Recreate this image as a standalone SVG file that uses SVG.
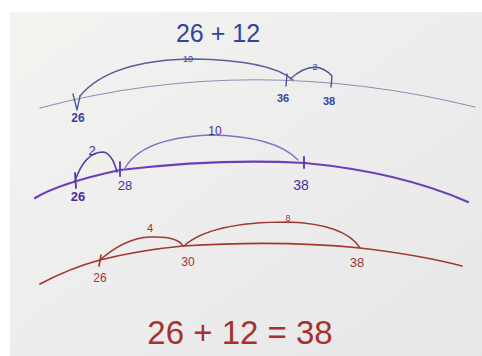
<svg xmlns="http://www.w3.org/2000/svg" width="482" height="356" viewBox="0 0 482 356">
<defs>
<linearGradient id="paper" x1="0" y1="0" x2="1" y2="1">
<stop offset="0" stop-color="#f3f3f0"/>
<stop offset="1" stop-color="#e7e7ea"/>
</linearGradient>
</defs>
<style>
.t{font-family:"Liberation Sans","DejaVu Sans",sans-serif;}
.blue{fill:#34449a;}
.purple{fill:#4a2c9c;}
.red{fill:#a3332c;}
.ln{fill:none;stroke-linecap:round;stroke-linejoin:round;}
</style>
<rect x="0" y="0" width="482" height="356" fill="#ffffff"/>
<rect x="10" y="12" width="472" height="344" fill="url(#paper)"/>

<text class="t blue" x="218" y="42" font-size="25" text-anchor="middle">26 + 12</text>

<g id="line1">
<path class="ln" d="M40,108 Q250,52 475,107" stroke="#8c90b4" stroke-width="1.2"/>
<path class="ln" d="M73,94 L77,110 L80,96" stroke="#4a5295" stroke-width="1.3"/>
<path class="ln" d="M80,96 Q110,60 193,59 Q270,60 293,80" stroke="#5a5f9c" stroke-width="1.4"/>
<path class="ln" d="M287,74 L286,86 M290,79 Q315,57 332,76 L331,87" stroke="#4a5295" stroke-width="1.4"/>
<text class="t blue" x="188" y="62" font-size="9" text-anchor="middle">10</text>
<text class="t blue" x="315" y="70" font-size="9" text-anchor="middle">2</text>
<text class="t blue" x="78" y="122" font-size="12" font-weight="bold" text-anchor="middle">26</text>
<text class="t blue" x="283" y="102" font-size="11" font-weight="bold" text-anchor="middle">36</text>
<text class="t blue" x="329" y="105" font-size="11" font-weight="bold" text-anchor="middle">38</text>
</g>

<g id="line2">
<path class="ln" d="M35,198 Q60,183 120,170 Q220,158 305,163 Q400,172 468,202" stroke="#6b3fb8" stroke-width="2.2"/>
<path class="ln" d="M75,173 L76,188 M120,162 L120,176 M304,157 L304,168" stroke="#5a35a8" stroke-width="1.8"/>
<path class="ln" d="M75,181 Q85,152 103,152 Q112,153 117,172" stroke="#5a35a8" stroke-width="1.6"/>
<path class="ln" d="M124,170 Q140,138 210,135 Q275,136 298,160" stroke="#8d6cc4" stroke-width="1.3"/>
<text class="t purple" x="92" y="155" font-size="13" text-anchor="middle">2</text>
<text class="t purple" x="215" y="135" font-size="12" text-anchor="middle">10</text>
<text class="t purple" x="78" y="201" font-size="13" font-weight="bold" text-anchor="middle">26</text>
<text class="t purple" x="125" y="190" font-size="13" text-anchor="middle">28</text>
<text class="t purple" x="301" y="190" font-size="14" text-anchor="middle">38</text>
</g>

<g id="line3">
<path class="ln" d="M40,284 Q70,268 100,260 Q140,250 183,246 Q280,240 360,248 Q420,255 462,266" stroke="#a3392f" stroke-width="1.7"/>
<path class="ln" d="M101,255 L99,266" stroke="#a3392f" stroke-width="1.7"/>
<path class="ln" d="M100,260 Q125,238 150,237 Q178,236 183,246" stroke="#9e3830" stroke-width="1.5"/>
<path class="ln" d="M184,246 Q210,222 288,222 Q345,224 360,248" stroke="#9e3830" stroke-width="1.5"/>
<text class="t red" x="150" y="232" font-size="11" text-anchor="middle">4</text>
<text class="t red" x="288" y="221" font-size="9" text-anchor="middle">8</text>
<text class="t red" x="100" y="282" font-size="12" text-anchor="middle">26</text>
<text class="t red" x="188" y="266" font-size="12" text-anchor="middle">30</text>
<text class="t red" x="357" y="267" font-size="13" text-anchor="middle">38</text>
</g>

<text class="t red" x="240" y="344" font-size="33" text-anchor="middle">26 + 12 = 38</text>
</svg>
